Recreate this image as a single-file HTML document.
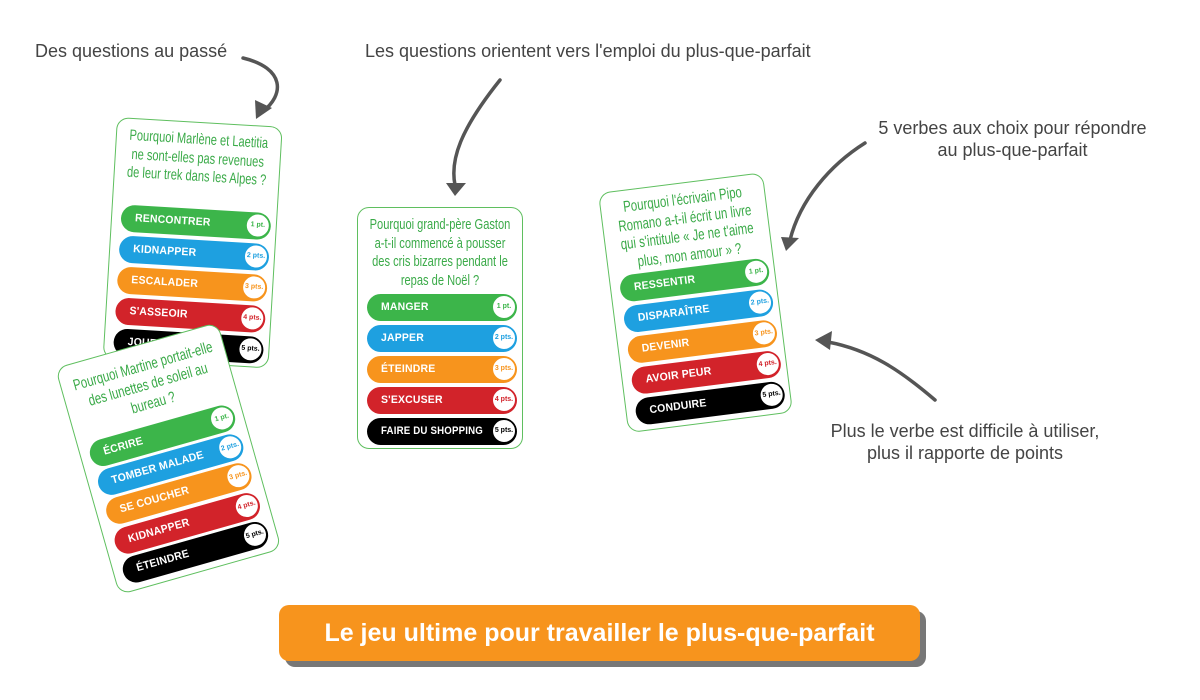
<!DOCTYPE html>
<html><head><meta charset="utf-8">
<style>
body{margin:0;width:1200px;height:700px;background:#fff;position:relative;overflow:hidden;font-family:"Liberation Sans",sans-serif;}
.ann{position:absolute;color:#444;font-size:18px;line-height:22px;white-space:nowrap;}
.card{position:absolute;width:164px;height:240px;border:1.5px solid #5fbf5f;border-radius:12px;background:#fff;transform-origin:0 0;}
.q{position:absolute;left:50%;width:220px;margin-left:-110px;top:8px;text-align:center;color:#3aaa48;font-size:15px;line-height:18.5px;white-space:nowrap;transform:scaleX(0.74);}
.p{position:absolute;left:9px;width:150px;height:27px;border-radius:14px;color:#fff;font-weight:bold;font-size:11px;line-height:27px;letter-spacing:.2px;}
.p span{position:absolute;left:14px;top:0;white-space:nowrap;transform-origin:0 50%;transform:scaleX(0.95);}
.p i{position:absolute;right:1px;top:1px;width:22px;height:22px;border-radius:50%;background:#fff;border:1.5px solid;font-style:normal;font-size:7px;line-height:22px;text-align:center;letter-spacing:0;}
.g{background:#3cb54a}.g i{border-color:#3cb54a;color:#3cb54a}
.b{background:#1ea0e0}.b i{border-color:#1ea0e0;color:#1ea0e0}
.o{background:#f7941d}.o i{border-color:#f7941d;color:#f7941d}
.r{background:#d2232a}.r i{border-color:#d2232a;color:#d2232a}
.k{background:#000}.k i{border-color:#000;color:#000}
</style></head><body>

<div class="ann" style="left:35px;top:40px">Des questions au passé</div>
<div class="ann" style="left:365px;top:40px">Les questions orientent vers l'emploi du plus-que-parfait</div>
<div class="ann" style="left:875px;top:117px;text-align:center;width:275px">5 verbes aux choix pour répondre<br>au plus-que-parfait</div>
<div class="ann" style="left:815px;top:420px;text-align:center;width:300px">Plus le verbe est difficile à utiliser,<br>plus il rapporte de points</div>

<svg width="1200" height="700" style="position:absolute;left:0;top:0">
<g fill="none" stroke="#555" stroke-width="3.5" stroke-linecap="round">
<path d="M243 58 C285 68 285 95 262 112"/>
<path d="M500 80 C460 130 450 160 455 185"/>
<path d="M865 143 C830 165 800 200 790 240"/>
<path d="M935 400 C900 370 870 350 828 342"/>
</g>
<g fill="#555">
<polygon points="256,119 255,100 272,108"/>
<polygon points="446,183 466,183 455,196"/>
<polygon points="781,237 799,238 786,251"/>
<polygon points="815,340 832,331 830,350"/>
</g>
</svg>

<!-- card 1 -->
<div class="card" style="left:117px;top:117px;transform:rotate(3.4deg)">
<div class="q">Pourquoi Marlène et Laetitia<br>ne sont-elles pas revenues<br>de leur trek dans les Alpes ?</div>
<div class="p g" style="top:86px"><span>RENCONTRER</span><i>1 pt.</i></div>
<div class="p b" style="top:117px"><span>KIDNAPPER</span><i>2 pts.</i></div>
<div class="p o" style="top:148px"><span>ESCALADER</span><i>3 pts.</i></div>
<div class="p r" style="top:179px"><span>S'ASSEOIR</span><i>4 pts.</i></div>
<div class="p k" style="top:210px"><span>JOUER</span><i>5 pts.</i></div>
</div>

<!-- card 2 -->
<div class="card" style="left:55px;top:368px;height:234px;width:167px;transform:rotate(-15.8deg)">
<div class="q" style="font-size:15.5px;line-height:19px;top:12px">Pourquoi Martine portait-elle<br>des lunettes de soleil au<br>bureau ?</div>
<div class="p g" style="top:80px"><span>ÉCRIRE</span><i>1 pt.</i></div>
<div class="p b" style="top:110px"><span>TOMBER MALADE</span><i>2 pts.</i></div>
<div class="p o" style="top:140px"><span>SE COUCHER</span><i>3 pts.</i></div>
<div class="p r" style="top:171px"><span>KIDNAPPER</span><i>4 pts.</i></div>
<div class="p k" style="top:201px"><span>ÉTEINDRE</span><i>5 pts.</i></div>
</div>

<!-- card center -->
<div class="card" style="left:357px;top:207px">
<div class="q">Pourquoi grand-père Gaston<br>a-t-il commencé à pousser<br>des cris bizarres pendant le<br>repas de Noël ?</div>
<div class="p g" style="top:86px"><span>MANGER</span><i>1 pt.</i></div>
<div class="p b" style="top:117px"><span>JAPPER</span><i>2 pts.</i></div>
<div class="p o" style="top:148px"><span>ÉTEINDRE</span><i>3 pts.</i></div>
<div class="p r" style="top:179px"><span>S'EXCUSER</span><i>4 pts.</i></div>
<div class="p k" style="top:210px"><span style="transform:scaleX(0.88)">FAIRE DU SHOPPING</span><i>5 pts.</i></div>
</div>

<!-- card 3 -->
<div class="card" style="left:598px;top:193px;transform:rotate(-7.2deg)">
<div class="q" style="font-size:15.5px">Pourquoi l'écrivain Pipo<br>Romano a-t-il écrit un livre<br>qui s'intitule « Je ne t'aime<br>plus, mon amour » ?</div>
<div class="p g" style="top:84px"><span>RESSENTIR</span><i>1 pt.</i></div>
<div class="p b" style="top:115px"><span>DISPARAÎTRE</span><i>2 pts.</i></div>
<div class="p o" style="top:146px"><span>DEVENIR</span><i>3 pts.</i></div>
<div class="p r" style="top:177px"><span>AVOIR PEUR</span><i>4 pts.</i></div>
<div class="p k" style="top:208px"><span>CONDUIRE</span><i>5 pts.</i></div>
</div>

<div style="position:absolute;left:285px;top:611px;width:641px;height:56px;border-radius:10px;background:#777"></div>
<div style="position:absolute;left:279px;top:605px;width:641px;height:56px;border-radius:10px;background:#f7941d;color:#fff;text-align:center;line-height:56px;font-size:25px;font-weight:bold;white-space:nowrap">Le jeu ultime pour travailler le plus-que-parfait</div>

</body></html>
